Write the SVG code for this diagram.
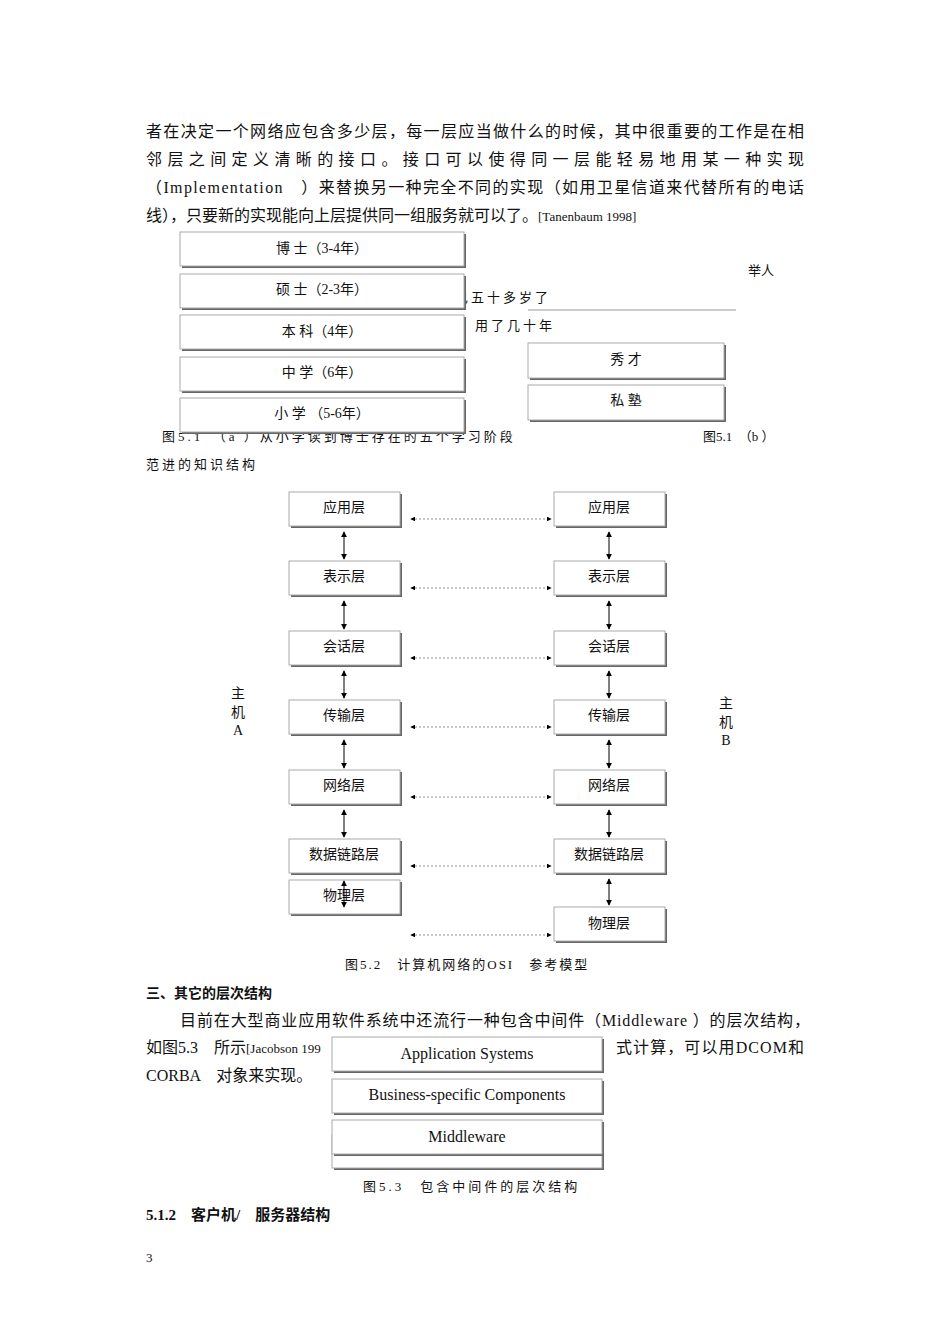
<svg xmlns="http://www.w3.org/2000/svg" width="950" height="1344" viewBox="0 0 950 1344">
<style>
text{font-family:"Liberation Serif","Noto Sans CJK SC",serif;fill:#111}
.b{fill:#fff;stroke:#aaa;stroke-width:1}
.s{fill:#666}
.t{font-size:14px;text-anchor:middle}
.p{font-size:16px}
.c{font-size:13px}
.v{stroke:#000;stroke-width:1;marker-start:url(#a);marker-end:url(#a)}
.h{stroke:#777;stroke-width:0.8;stroke-dasharray:2,2;marker-start:url(#a);marker-end:url(#a)}
</style>
<defs>
<marker id="a" viewBox="0 0 8 8" refX="7" refY="4" markerWidth="6" markerHeight="6" orient="auto-start-reverse"><path d="M0,0L8,4L0,8z" fill="#000"/></marker>
</defs>
<rect width="950" height="1344" fill="#fff"/>
<text class="p" x="146" y="137" textLength="658">者在决定一个网络应包含多少层，每一层应当做什么的时候，其中很重要的工作是在相</text>
<text class="p" x="146" y="165" textLength="658">邻层之间定义清晰的接口。接口可以使得同一层能轻易地用某一种实现</text>
<text class="p" x="146" y="193" textLength="658">（Implementation　）来替换另一种完全不同的实现（如用卫星信道来代替所有的电话</text>
<text class="p" x="146" y="221">线），只要新的实现能向上层提供同一组服务就可以了。<tspan font-size="13">[Tanenbaum 1998]</tspan></text>
<text class="c" x="748" y="275">举人</text>
<text class="c" x="455" y="302" letter-spacing="3">已五十多岁了</text>
<line x1="528" y1="310" x2="736" y2="310" stroke="#999"/>
<text class="c" x="475" y="330" letter-spacing="3">用了几十年</text>
<text class="c" x="162" y="441" letter-spacing="3">图5.1　（a ）从小学读到博士存在的五个学习阶段</text>
<text class="c" x="703" y="441">图5.1　（b ）</text>
<text class="c" x="146" y="469" letter-spacing="3">范进的知识结构</text>
<g id="fig51a">
<g id="n1"><rect class="s" x="182" y="234" width="284" height="34"/><rect class="b" x="180" y="232" width="284" height="34"/><text class="t" x="322" y="253">博 士（3-4年）</text></g>
<g id="n2"><rect class="s" x="182" y="276" width="284" height="34"/><rect class="b" x="180" y="274" width="284" height="34"/><text class="t" x="322" y="294">硕 士（2-3年）</text></g>
<g id="n3"><rect class="s" x="182" y="317" width="284" height="34"/><rect class="b" x="180" y="315" width="284" height="34"/><text class="t" x="322" y="336">本 科（4年）</text></g>
<g id="n4"><rect class="s" x="182" y="359" width="284" height="34"/><rect class="b" x="180" y="357" width="284" height="34"/><text class="t" x="322" y="377">中 学（6年）</text></g>
<g id="n5"><rect class="s" x="182" y="400" width="284" height="34"/><rect class="b" x="180" y="398" width="284" height="34"/><text class="t" x="322" y="418">小 学 （5-6年）</text></g>
</g>
<g id="fig51b">
<g id="n6"><rect class="s" x="530" y="345" width="196" height="35"/><rect class="b" x="528" y="343" width="196" height="35"/><text class="t" x="626" y="364">秀 才</text></g>
<g id="n7"><rect class="s" x="530" y="387" width="196" height="35"/><rect class="b" x="528" y="385" width="196" height="35"/><text class="t" x="626" y="405">私 塾</text></g>
</g>
<g id="osi-left">
<g><rect class="s" x="291" y="494" width="111" height="34"/><rect class="b" x="289" y="492" width="111" height="34"/><text class="t" x="344" y="512">应用层</text></g>
<g><rect class="s" x="291" y="563" width="111" height="34"/><rect class="b" x="289" y="561" width="111" height="34"/><text class="t" x="344" y="581">表示层</text></g>
<g><rect class="s" x="291" y="633" width="111" height="34"/><rect class="b" x="289" y="631" width="111" height="34"/><text class="t" x="344" y="651">会话层</text></g>
<g><rect class="s" x="291" y="702" width="111" height="34"/><rect class="b" x="289" y="700" width="111" height="34"/><text class="t" x="344" y="720">传输层</text></g>
<g><rect class="s" x="291" y="772" width="111" height="34"/><rect class="b" x="289" y="770" width="111" height="34"/><text class="t" x="344" y="790">网络层</text></g>
<g><rect class="s" x="291" y="841" width="111" height="34"/><rect class="b" x="289" y="839" width="111" height="34"/><text class="t" x="344" y="859">数据链路层</text></g>
<g><rect class="s" x="291" y="882" width="111" height="34"/><rect class="b" x="289" y="880" width="111" height="34"/><text class="t" x="344" y="900">物理层</text></g>
</g>
<g id="osi-right">
<g><rect class="s" x="556" y="494" width="111" height="34"/><rect class="b" x="554" y="492" width="111" height="34"/><text class="t" x="609" y="512">应用层</text></g>
<g><rect class="s" x="556" y="563" width="111" height="34"/><rect class="b" x="554" y="561" width="111" height="34"/><text class="t" x="609" y="581">表示层</text></g>
<g><rect class="s" x="556" y="633" width="111" height="34"/><rect class="b" x="554" y="631" width="111" height="34"/><text class="t" x="609" y="651">会话层</text></g>
<g><rect class="s" x="556" y="702" width="111" height="34"/><rect class="b" x="554" y="700" width="111" height="34"/><text class="t" x="609" y="720">传输层</text></g>
<g><rect class="s" x="556" y="772" width="111" height="34"/><rect class="b" x="554" y="770" width="111" height="34"/><text class="t" x="609" y="790">网络层</text></g>
<g><rect class="s" x="556" y="841" width="111" height="34"/><rect class="b" x="554" y="839" width="111" height="34"/><text class="t" x="609" y="859">数据链路层</text></g>
<g><rect class="s" x="556" y="909" width="111" height="34"/><rect class="b" x="554" y="907" width="111" height="34"/><text class="t" x="609" y="928">物理层</text></g>
</g>
<g id="hostA"><text class="t" x="238" y="698">主</text><text class="t" x="238" y="717">机</text><text class="t" x="238" y="735">A</text></g>
<g id="hostB"><text class="t" x="726" y="708">主</text><text class="t" x="726" y="727">机</text><text class="t" x="726" y="745">B</text></g>
<g id="connectors">
<line class="v" x1="344" y1="532" x2="344" y2="559"/>
<line class="v" x1="344" y1="601" x2="344" y2="629"/>
<line class="v" x1="344" y1="671" x2="344" y2="698"/>
<line class="v" x1="344" y1="740" x2="344" y2="768"/>
<line class="v" x1="344" y1="810" x2="344" y2="837"/>
<line class="v" x1="344" y1="881" x2="344" y2="907"/>
<line class="v" x1="609" y1="532" x2="609" y2="559"/>
<line class="v" x1="609" y1="601" x2="609" y2="629"/>
<line class="v" x1="609" y1="671" x2="609" y2="698"/>
<line class="v" x1="609" y1="740" x2="609" y2="768"/>
<line class="v" x1="609" y1="810" x2="609" y2="837"/>
<line class="v" x1="609" y1="879" x2="609" y2="905"/>
<line class="h" x1="411" y1="519" x2="551" y2="519"/>
<line class="h" x1="411" y1="588" x2="551" y2="588"/>
<line class="h" x1="411" y1="658" x2="551" y2="658"/>
<line class="h" x1="411" y1="727" x2="551" y2="727"/>
<line class="h" x1="411" y1="797" x2="551" y2="797"/>
<line class="h" x1="411" y1="866" x2="551" y2="866"/>
<line class="h" x1="411" y1="935" x2="551" y2="935"/>
</g>
<text class="c" x="345" y="969" letter-spacing="2">图5.2　计算机网络的OSI　参考模型</text>
<text x="146" y="998" font-size="14" font-weight="bold">三、其它的层次结构</text>
<text class="p" x="180" y="1026" textLength="630">目前在大型商业应用软件系统中还流行一种包含中间件（Middleware ）的层次结构，</text>
<text class="p" x="146" y="1053">如图5.3　所示<tspan font-size="13">[Jacobson 199</tspan></text>
<text class="p" x="616" y="1053" textLength="188">式计算，可以用DCOM和</text>
<text class="p" x="146" y="1081">CORBA　对象来实现。</text>
<g id="fig53">
<g id="m4"><rect class="s" x="334" y="1137" width="270" height="33"/><rect class="b" x="332" y="1135" width="270" height="33"/></g>
<g id="m1"><rect class="s" x="334" y="1039" width="270" height="34"/><rect class="b" x="332" y="1037" width="270" height="34"/><text x="467" y="1059" font-size="16" text-anchor="middle">Application Systems</text></g>
<g id="m2"><rect class="s" x="334" y="1081" width="270" height="34"/><rect class="b" x="332" y="1079" width="270" height="34"/><text x="467" y="1100" font-size="16" text-anchor="middle">Business-specific Components</text></g>
<g id="m3"><rect class="s" x="334" y="1122" width="270" height="34"/><rect class="b" x="332" y="1120" width="270" height="34"/><text x="467" y="1142" font-size="16" text-anchor="middle">Middleware</text></g>
</g>
<text class="c" x="363" y="1191" letter-spacing="3">图5.3　包含中间件的层次结构</text>
<text x="146" y="1220" font-size="15" font-weight="bold">5.1.2　客户机/　服务器结构</text>
<text x="146" y="1262" font-size="13">3</text>
</svg>
